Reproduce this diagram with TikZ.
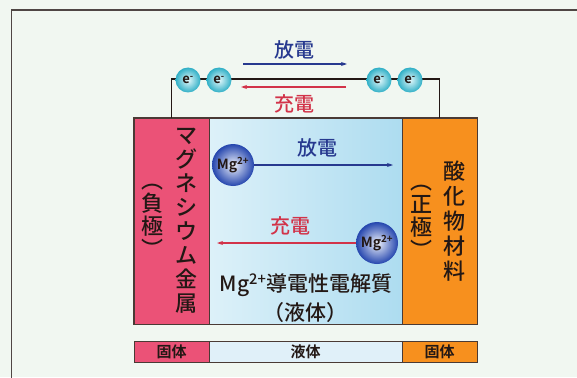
\documentclass[tikz,border=0pt]{standalone}
\usepackage{fontspec}
\setmainfont{Noto Sans CJK JP}[UprightFont=* Medium, BoldFont=* Bold]
\usetikzlibrary{arrows.meta,shadings}
\definecolor{bg}{HTML}{F1F7F1}
\definecolor{negc}{HTML}{EB5277}
\definecolor{posc}{HTML}{F7901E}
\definecolor{liqA}{HTML}{DDF1F9}
\definecolor{liqB}{HTML}{F6FBFC}
\definecolor{liqC}{HTML}{ADDCF0}
\definecolor{liqS}{HTML}{E0F0F9}
\definecolor{dis}{HTML}{27398F}
\definecolor{chg}{HTML}{D23349}
\definecolor{ink}{HTML}{231815}
\definecolor{eIn}{HTML}{E4F8FB}
\definecolor{eOut}{HTML}{2FAFC6}
\definecolor{mIn}{HTML}{EEF2FB}
\definecolor{mOut}{HTML}{2546AE}
\definecolor{edge}{HTML}{4A3A35}
\tikzset{
  box/.style={draw=edge, line width=0.9pt, minimum width=75pt, minimum height=206pt, inner sep=0pt},
  strip/.style={draw=edge, line width=0.9pt, minimum height=21pt, inner sep=0pt, text=ink, font=\fontsize{15}{15}\selectfont\bfseries},
  wire/.style={draw=ink, line width=1.8pt},
  elec/.style={circle, minimum size=25pt, inner sep=0pt, inner color=eIn, outer color=eOut, text=ink, font=\fontsize{13}{13}\selectfont\bfseries},
  mg/.style={circle, minimum size=42pt, inner sep=0pt, inner color=mIn, outer color=mOut, text=ink, font=\fontsize{14}{14}\selectfont\bfseries},
  disarr/.style={draw=dis, line width=1.2pt, -{Stealth[length=6pt,width=4pt]}},
  chgarr/.style={draw=chg, line width=1.2pt, -{Stealth[length=6pt,width=4pt]}},
  lab/.style={font=\fontsize{20}{20}\selectfont},
  vtext/.style={align=center, inner sep=0pt, text=ink, font=\fontsize{22}{24}\selectfont},
}
\begin{document}
\begin{tikzpicture}[x=1pt,y=-1pt]
\useasboundingbox (0,0) rectangle (577,377);
\fill[bg] (0,0) rectangle (577,377);
\draw[draw=ink!80, line width=1.3pt] (11.5,378) -- (11.5,10) -- (578,10);

% electrodes and electrolyte
\node[box, fill=negc] (neg) at (171.5,221) {};
\node[box, minimum width=193pt, left color=liqA, middle color=liqB, right color=liqC] (liq) at (305.5,221) {};
\node[box, fill=posc] (pos) at (439.5,221) {};
\draw[draw=edge, line width=0.9pt] (neg.south west) rectangle (pos.north east);

% bottom strip
\node[strip, minimum width=75pt, fill=negc] (s1) at (171.5,351.5) {固体};
\node[strip, minimum width=193pt, fill=liqS] (s2) at (305.5,351.5) {液体};
\node[strip, minimum width=75pt, fill=posc] (s3) at (439.5,351.5) {固体};

% wire
\coordinate (wl) at (171.5,79);
\coordinate (wr) at (439.5,79);
\draw[wire] (neg.north) -- (wl) -- (wr) -- (pos.north);
\node[elec] (e1) at (188,80) {e\textsuperscript{-}};
\node[elec] (e2) at (219,80) {e\textsuperscript{-}};
\node[elec] (e3) at (379,80) {e\textsuperscript{-}};
\node[elec] (e4) at (410,80) {e\textsuperscript{-}};

% top arrows
\coordinate (ta1) at (243,64);
\coordinate (ta2) at (347,64);
\coordinate (tb1) at (346,87);
\coordinate (tb2) at (241,87);
\draw[disarr] (ta1) -- (ta2);
\draw[chgarr] (tb1) -- (tb2);
\node[lab, text=dis] (tdis) at (294,50) {放電};
\node[lab, text=chg] (tchg) at (294,104) {充電};

% Mg ions
\node[mg] (m1) at (233,165) {Mg\textsuperscript{2+}};
\node[mg] (m2) at (377,243) {Mg\textsuperscript{2+}};
\coordinate (ma) at (393,165);
\coordinate (mb) at (217,243);
\draw[disarr] (m1) -- (ma);
\draw[chgarr] (m2) -- (mb);
\node[lab, text=dis] (ldis) at (317,148) {放電};
\node[lab, text=chg] (lchg) at (290,226) {充電};

% electrolyte text
\node[text=ink, font=\fontsize{21}{21}\selectfont] (el1) at (306,285) {Mg\textsuperscript{2+}導電性電解質};
\node[text=ink, font=\fontsize{21}{21}\selectfont] (el2) at (305,313) {（液体）};

% vertical texts
\node[vtext] (vn1) at (186,221) {マ\\グ\\ネ\\シ\\ウ\\ム\\金\\属};
\node[vtext, font=\fontsize{22}{23}\selectfont] (vn2) at (152,221) {︵\\負\\極\\︶};
\node[vtext, font=\fontsize{22}{25}\selectfont] (vp1) at (454,221) {酸\\化\\物\\材\\料};
\node[vtext, font=\fontsize{22}{23}\selectfont] (vp2) at (421,222) {︵\\正\\極\\︶};
\end{tikzpicture}
\end{document}
